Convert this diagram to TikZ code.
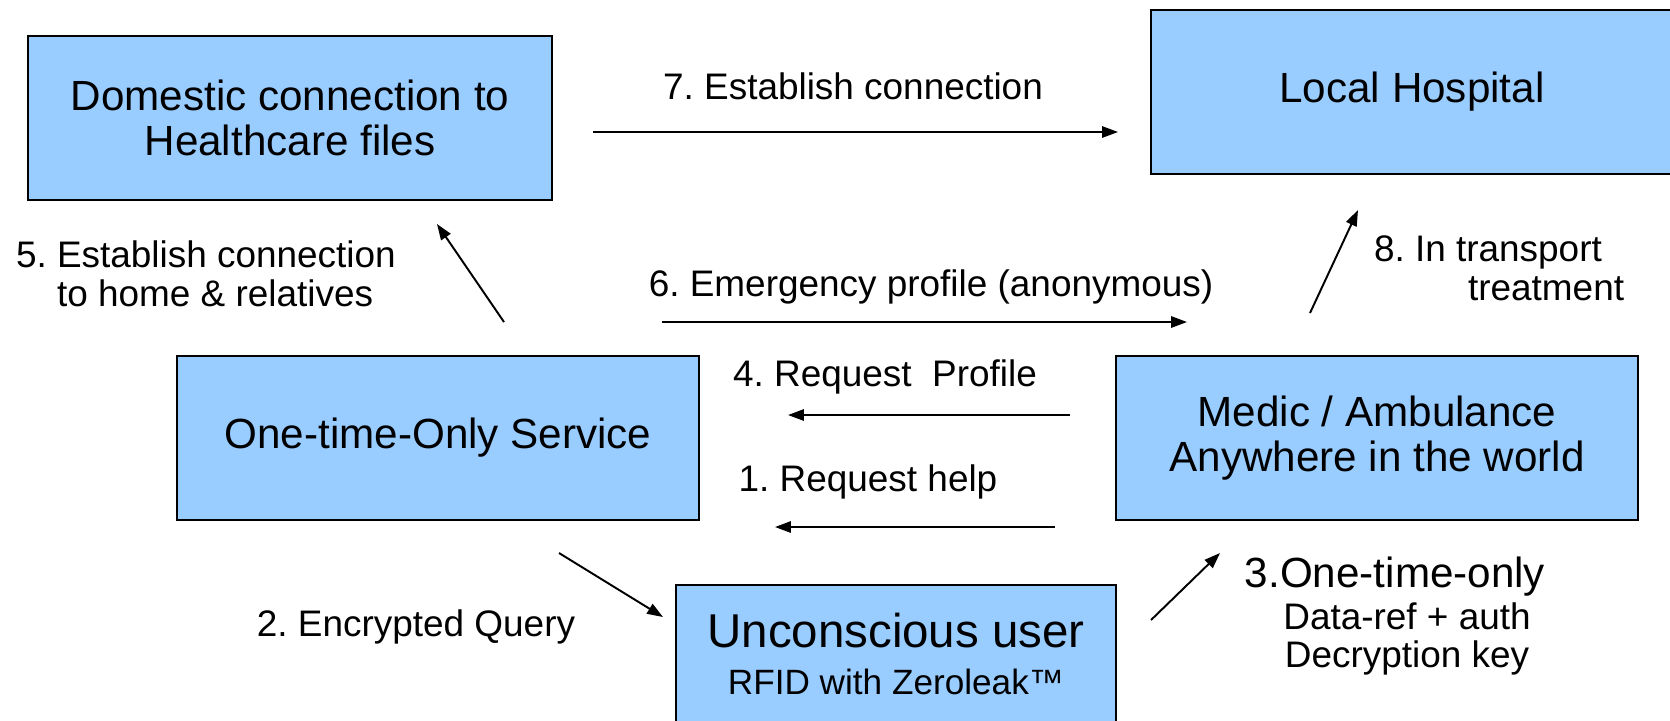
\documentclass[tikz,border=0pt]{standalone}
\usepackage{fontspec}
\setmainfont{Liberation Sans}
\usetikzlibrary{calc, shapes, arrows.meta}
\usepackage{xcolor}
\definecolor{boxblue}{HTML}{99CCFF}
\frenchspacing

\begin{document}
\begin{tikzpicture}[x=0.01cm, y=-0.01cm,
		>={Triangle[length=4.5pt,width=3.2pt]}]
		\tikzstyle{every node}=[inner sep=0pt, outer sep=0pt]
		\tikzstyle{box}=[draw, fill=boxblue, line width=0.6pt, align=center,
			minimum width=5.22cm, minimum height=1.64cm, font=\fontsize{12}{12.8}\selectfont]
		\tikzstyle{lbl}=[align=center, font=\fontsize{10.5}{11}\selectfont]
		\tikzstyle{flow}=[->, line width=0.55pt]
		\useasboundingbox (0,0) rectangle (1670,720);
		\clip (0,0) rectangle (1670,720);
		\node [box, minimum width=5.23cm] (dom) at (290,118) {Domestic connection to\\Healthcare files};
		\node [box] (hosp) at (1412,92) {Local Hospital};
		\node [box] (otos) at (438,438) {One-time-Only Service};
		\node [box] (medic) at (1377,438) {Medic / Ambulance\\Anywhere in the world};
		\node [box, minimum width=4.39cm, minimum height=1.38cm, font=\fontsize{13.5}{13.4}\selectfont] (user) at (896,654)
			{Unconscious user\\{\fontsize{10}{12}\selectfont RFID with Zeroleak™}};
		\node [lbl] (l7) at (853,86) {7. Establish connection};
		\node [lbl, align=left, anchor=west] (l5) at (16,274) {5. Establish connection\\\hspace*{0.41cm}to home \& relatives};
		\node [lbl] (l6) at (931,287) {6. Emergency profile (anonymous)};
		\node [lbl, align=left, anchor=west] (l8) at (1374,268) {8. In transport\\\hspace*{0.94cm}treatment};
		\node [lbl] (l4) at (885,377) {4. Request\ \ Profile};
		\node [lbl] (l1) at (868,482) {1. Request help};
		\node [lbl] (l2) at (416,627) {2. Encrypted Query};
		\node [lbl] (l3) at (1395,616) {{\fontsize{12}{12}\selectfont 3.One-time-only}\\[1pt]\hspace*{0.24cm}Data-ref + auth\\\hspace*{0.24cm}Decryption key};
		\coordinate (a7s) at (593,132);
		\coordinate (a7e) at (1118,132);
		\coordinate (a5s) at (504,322);
		\coordinate (a5e) at (437,224);
		\coordinate (a6s) at (662,322);
		\coordinate (a6e) at (1187,322);
		\coordinate (a8s) at (1310,313);
		\coordinate (a8e) at (1358,210);
		\coordinate (a4s) at (1070,415);
		\coordinate (a4e) at (788,415);
		\coordinate (a1s) at (1055,527);
		\coordinate (a1e) at (775,527);
		\coordinate (a2s) at (559,553);
		\coordinate (a2e) at (663,617);
		\coordinate (a3s) at (1151,620);
		\coordinate (a3e) at (1220,553);
		\draw [flow] (a7s) -- (a7e);
		\draw [flow] (a5s) -- (a5e);
		\draw [flow] (a6s) -- (a6e);
		\draw [flow] (a8s) -- (a8e);
		\draw [flow] (a4s) -- (a4e);
		\draw [flow] (a1s) -- (a1e);
		\draw [flow] (a2s) -- (a2e);
		\draw [flow] (a3s) -- (a3e);
\end{tikzpicture}
\end{document}
